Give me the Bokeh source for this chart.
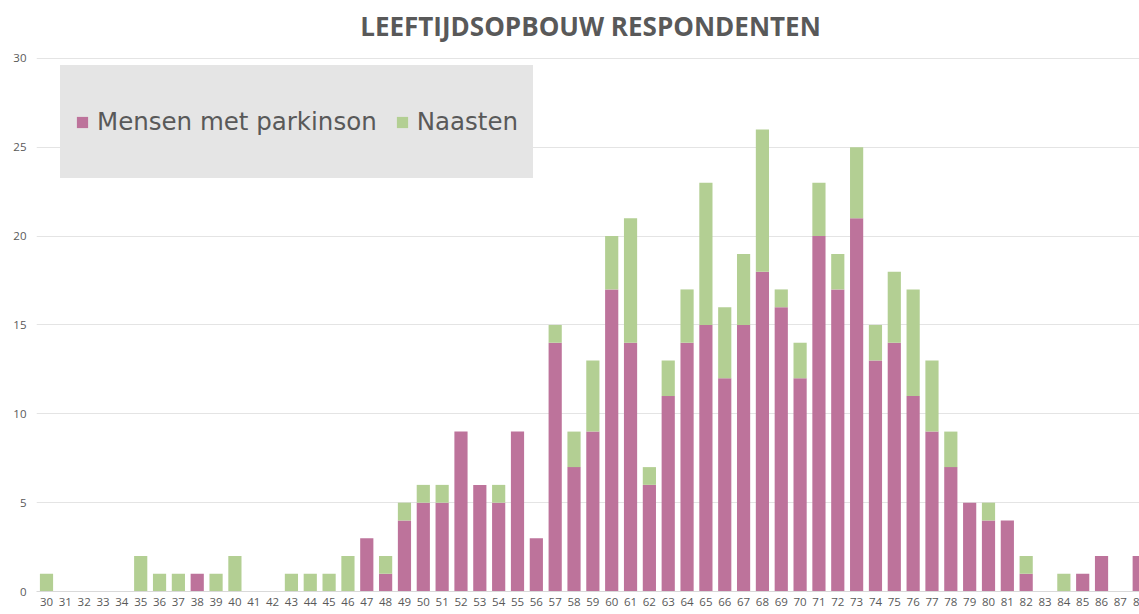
from bokeh.plotting import figure
from bokeh.models import ColumnDataSource, FixedTicker, Legend, LegendItem, Label
from bokeh.embed import file_html
from bokeh.resources import INLINE

ages = list(range(30, 89))
parkinson = [0, 0, 0, 0, 0, 0, 0, 0, 1, 0,
             0, 0, 0, 0, 0, 0, 0, 3, 1, 4,
             5, 5, 9, 6, 5, 9, 3, 14, 7, 9,
             17, 14, 6, 11, 14, 15, 12, 15, 18, 16,
             12, 20, 17, 21, 13, 14, 11, 9, 7, 5,
             4, 4, 1, 0, 0, 1, 2, 0, 2]
naasten = [1, 0, 0, 0, 0, 2, 1, 1, 0, 1,
           2, 0, 0, 1, 1, 1, 2, 0, 1, 1,
           1, 1, 0, 0, 1, 0, 0, 1, 2, 4,
           3, 7, 1, 2, 3, 8, 4, 4, 8, 1,
           2, 3, 2, 4, 2, 4, 6, 4, 2, 0,
           1, 0, 1, 0, 1, 0, 0, 0, 0]
y_ticks = [0, 5, 10, 15, 20, 25, 30]
series_names = ["Mensen met parkinson", "Naasten"]
colors = ["#BD739B", "#B3CF93"]
title_text = "LEEFTIJDSOPBOUW RESPONDENTEN"
# the last tick label is cut off at the right edge in the reference, only "8" is visible
edge_label = {88: "8"}

src = ColumnDataSource(dict(age=ages, p=parkinson, n=naasten))

p = figure(width=1139, height=614, output_backend="svg", toolbar_location=None,
           x_range=(29.469, 88.015), y_range=(0, 33.26),
           min_border_left=36, min_border_right=0, min_border_top=0, min_border_bottom=23)
p.outline_line_color = None
p.background_fill_color = "white"
p.border_fill_color = "white"

rs = p.vbar_stack(["p", "n"], x="age", width=0.7, source=src, color=colors, line_color=None)

p.xgrid.visible = False
p.ygrid.ticker = FixedTicker(ticks=y_ticks)
p.ygrid.grid_line_color = "#e4e4e4"
p.ygrid.grid_line_width = 1

p.xaxis.ticker = FixedTicker(ticks=ages)
p.xaxis.major_label_overrides = edge_label
p.xaxis.axis_line_color = "#d9d9d9"
p.xaxis.major_tick_line_color = None
p.xaxis.minor_tick_line_color = None
p.xaxis.major_tick_out = 0
p.xaxis.major_tick_in = 0
p.xaxis.major_label_text_font = "Open Sans"
p.xaxis.major_label_text_font_size = "11.5px"
p.xaxis.major_label_text_color = "#595959"
p.xaxis.major_label_standoff = 6

p.yaxis.ticker = FixedTicker(ticks=y_ticks)
p.yaxis.axis_line_color = None
p.yaxis.major_tick_line_color = None
p.yaxis.minor_tick_line_color = None
p.yaxis.major_tick_out = 0
p.yaxis.major_tick_in = 0
p.yaxis.major_label_text_font = "Open Sans"
p.yaxis.major_label_text_font_size = "11.5px"
p.yaxis.major_label_text_color = "#595959"
p.yaxis.major_label_standoff = 10

legend = Legend(items=[LegendItem(label=series_names[0], renderers=[rs[0]]),
                       LegendItem(label=series_names[1], renderers=[rs[1]])],
                location=(24, 413), orientation="horizontal",
                background_fill_color="#e5e5e5", background_fill_alpha=1.0,
                border_line_color="#e5e5e5", border_line_width=1,
                label_text_font="DejaVu Sans", label_text_font_size="24.5px",
                label_text_color="#595959",
                glyph_width=14, glyph_height=14, label_standoff=8,
                spacing=18, padding=14, label_height=83)
p.add_layout(legend, "center")

title = Label(x=554, y=566, x_units="screen", y_units="screen", text=title_text,
              text_align="center", text_baseline="middle",
              text_font="Open Sans", text_font_style="bold", text_font_size="26px",
              text_color="#595959")
p.add_layout(title)

open("out.html", "w").write(file_html(p, INLINE))
